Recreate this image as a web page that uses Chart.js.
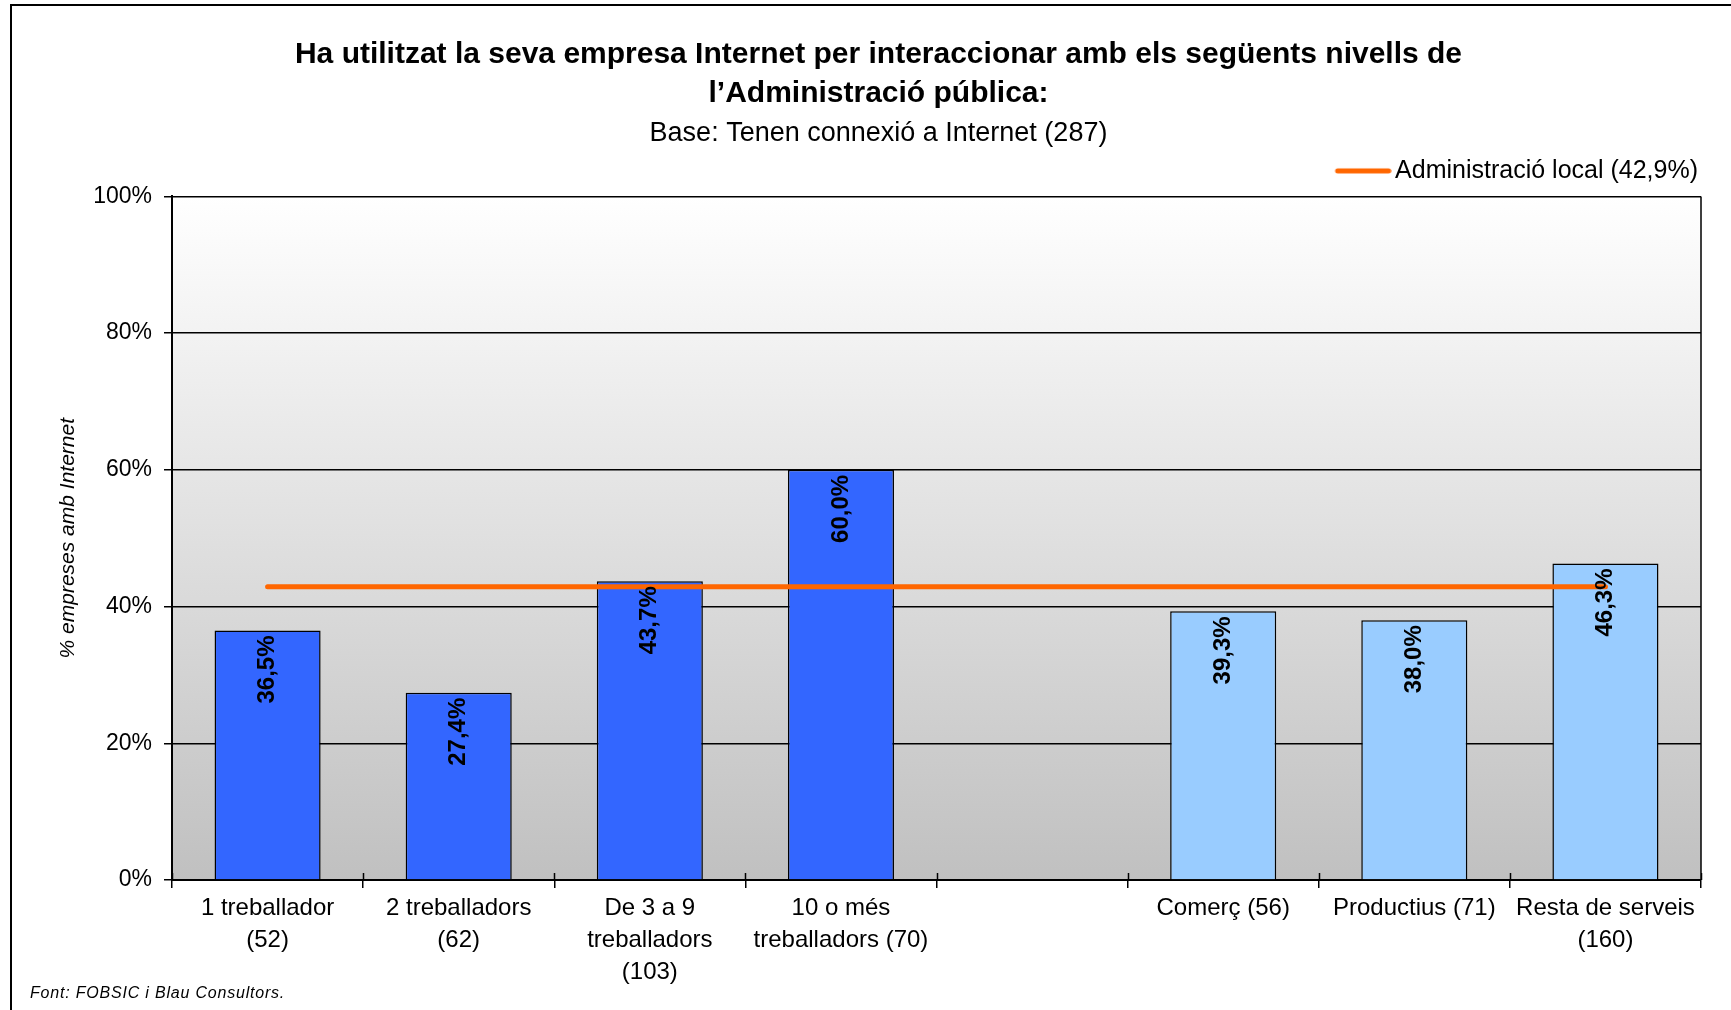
<!DOCTYPE html>
<html>
<head>
<meta charset="utf-8">
<title>Administració pública per Internet</title>
<script src="https://cdn.jsdelivr.net/npm/chart.js@4.4.1/dist/chart.umd.min.js"></script>
<style>
  html, body { margin: 0; padding: 0; background: #fff; }
  #wrap { width: 1731px; height: 1010px; }
</style>
</head>
<body>
<div id="wrap"><canvas id="chart" width="1731" height="1010"></canvas></div>
<script>
// categories: company size groups, an empty gap, then sectors
const categories = [
  ['1 treballador', '(52)'],
  ['2 treballadors', '(62)'],
  ['De 3 a 9', 'treballadors', '(103)'],
  ['10 o més', 'treballadors (70)'],
  '',
  'Comerç (56)',
  'Productius (71)',
  ['Resta de serveis', '(160)']
];
const percentages = [36.5, 27.4, 43.7, 60.0, null, 39.3, 38.0, 46.3];
const barColors = ['#3366FF', '#3366FF', '#3366FF', '#3366FF', '#3366FF', '#99CCFF', '#99CCFF', '#99CCFF'];
const localAdmin = [42.9, 42.9, 42.9, 42.9, 42.9, 42.9, 42.9, 42.9];
const localLabel = 'Administració local (42,9%)';

const FONT = '"Liberation Sans", Arial, Helvetica, sans-serif';
Chart.defaults.font.family = FONT;
Chart.defaults.color = '#000';

const fmt = v => v.toFixed(1).replace('.', ',') + '%';

// legend swatch: orange stroke sitting right next to the label text
const swatch = document.createElement('canvas');
swatch.width = 74;
swatch.height = 8;
(() => {
  const c = swatch.getContext('2d');
  c.strokeStyle = '#FF6600';
  c.lineWidth = 5;
  c.lineCap = 'round';
  c.beginPath();
  c.moveTo(20, 4);
  c.lineTo(71, 4);
  c.stroke();
})();

// a bit more room between the legend and the plot
const legendGap = {
  id: 'legendGap',
  beforeInit(chart) {
    const fit = chart.legend.fit;
    chart.legend.fit = function () {
      fit.call(this);
      this.height += 3;
    };
  }
};

// page background, plot gradient, outer frame and footer note
const backdrop = {
  id: 'backdrop',
  beforeDraw(chart) {
    const { ctx, chartArea: a } = chart;
    ctx.save();
    ctx.fillStyle = '#fff';
    ctx.fillRect(0, 0, chart.width, chart.height);
    const g = ctx.createLinearGradient(0, a.top, 0, a.bottom);
    g.addColorStop(0, '#FFFFFF');
    g.addColorStop(1, '#C0C0C0');
    ctx.fillStyle = g;
    ctx.fillRect(a.left, a.top, a.right - a.left, a.bottom - a.top);
    ctx.restore();
  },
  afterDraw(chart) {
    const { ctx, chartArea: a } = chart;
    const x = chart.scales.x;
    ctx.save();
    ctx.strokeStyle = '#000';
    // right edge of the plot
    ctx.lineWidth = 1.5;
    ctx.beginPath();
    ctx.moveTo(a.right, a.top);
    ctx.lineTo(a.right, a.bottom);
    // category tick marks poking into the plot
    const step = (x.right - x.left) / categories.length;
    for (let i = 0; i <= categories.length; i++) {
      const px = Math.round(x.left + i * step) + 0.5;
      ctx.moveTo(px, a.bottom - 7);
      ctx.lineTo(px, a.bottom);
    }
    ctx.stroke();
    // frame
    ctx.lineWidth = 2;
    ctx.beginPath();
    ctx.moveTo(11, chart.height);
    ctx.lineTo(11, 5);
    ctx.lineTo(chart.width, 5);
    ctx.stroke();
    // source note
    ctx.font = 'italic 16px ' + FONT;
    ctx.letterSpacing = '0.8px';
    ctx.fillStyle = '#000';
    ctx.textBaseline = 'alphabetic';
    ctx.fillText('Font: FOBSIC i Blau Consultors.', 30, 998);
    ctx.restore();
  }
};

// vertical value labels at the top of each bar
const barValues = {
  id: 'barValues',
  afterDatasetsDraw(chart) {
    const { ctx } = chart;
    const meta = chart.getDatasetMeta(1);
    ctx.save();
    ctx.font = 'bold 24px ' + FONT;
    ctx.fillStyle = '#000';
    ctx.textAlign = 'right';
    ctx.textBaseline = 'middle';
    meta.data.forEach((bar, i) => {
      const v = percentages[i];
      if (v == null) return;
      ctx.save();
      ctx.translate(bar.x, bar.y + 5);
      ctx.rotate(-Math.PI / 2);
      ctx.fillText(fmt(v), 0, 0);
      ctx.restore();
    });
    ctx.restore();
  }
};

new Chart(document.getElementById('chart'), {
  data: {
    labels: categories,
    datasets: [
      {
        type: 'line',
        label: localLabel,
        data: localAdmin,
        borderColor: '#FF6600',
        backgroundColor: '#FF6600',
        borderWidth: 5,
        borderCapStyle: 'round',
        pointRadius: 0,
        pointHoverRadius: 0,
        pointStyle: swatch,
        order: 0
      },
      {
        type: 'bar',
        label: 'Empreses',
        data: percentages,
        backgroundColor: barColors,
        borderColor: '#000',
        borderWidth: 1.5,
        barPercentage: 0.555,
        categoryPercentage: 1,
        order: 1
      }
    ]
  },
  options: {
    responsive: false,
    animation: false,
    layout: { padding: { left: 56, right: 30, top: 0, bottom: 18 } },
    plugins: {
      title: {
        display: true,
        text: ['Ha utilitzat la seva empresa Internet per interaccionar amb els següents nivells de', 'l’Administració pública:'],
        font: { size: 30, weight: 'bold', lineHeight: 1.3 },
        color: '#000',
        padding: { top: 35, bottom: 3 }
      },
      subtitle: {
        display: true,
        text: 'Base: Tenen connexió a Internet (287)',
        font: { size: 27, lineHeight: 1.2 },
        color: '#000',
        padding: { top: 1, bottom: 6 }
      },
      legend: {
        position: 'top',
        align: 'end',
        labels: {
          filter: item => item.datasetIndex === 0,
          usePointStyle: true,
          pointStyle: swatch,
          pointStyleWidth: 56,
          boxHeight: 8,
          padding: 3,
          color: '#000',
          font: { size: 25 }
        }
      },
      tooltip: { enabled: false }
    },
    scales: {
      x: {
        offset: true,
        grid: { offset: true, drawOnChartArea: false, color: '#000', lineWidth: 1.5, tickLength: 8 },
        border: { color: '#000', width: 2 },
        ticks: { font: { size: 24, lineHeight: 1.333 }, padding: 4, maxRotation: 0, autoSkip: false, color: '#000' }
      },
      y: {
        min: 0,
        max: 100,
        grid: { color: '#000', lineWidth: 1.5, tickLength: 8 },
        border: { color: '#000', width: 2 },
        ticks: { stepSize: 20, callback: v => v + '%', font: { size: 23 }, padding: 12, color: '#000' },
        title: {
          display: true,
          text: '% empreses amb Internet',
          font: { size: 21, style: 'italic' },
          color: '#000',
          padding: { top: 0, bottom: 0 }
        }
      }
    }
  },
  plugins: [legendGap, backdrop, barValues]
});
</script>
</body>
</html>
